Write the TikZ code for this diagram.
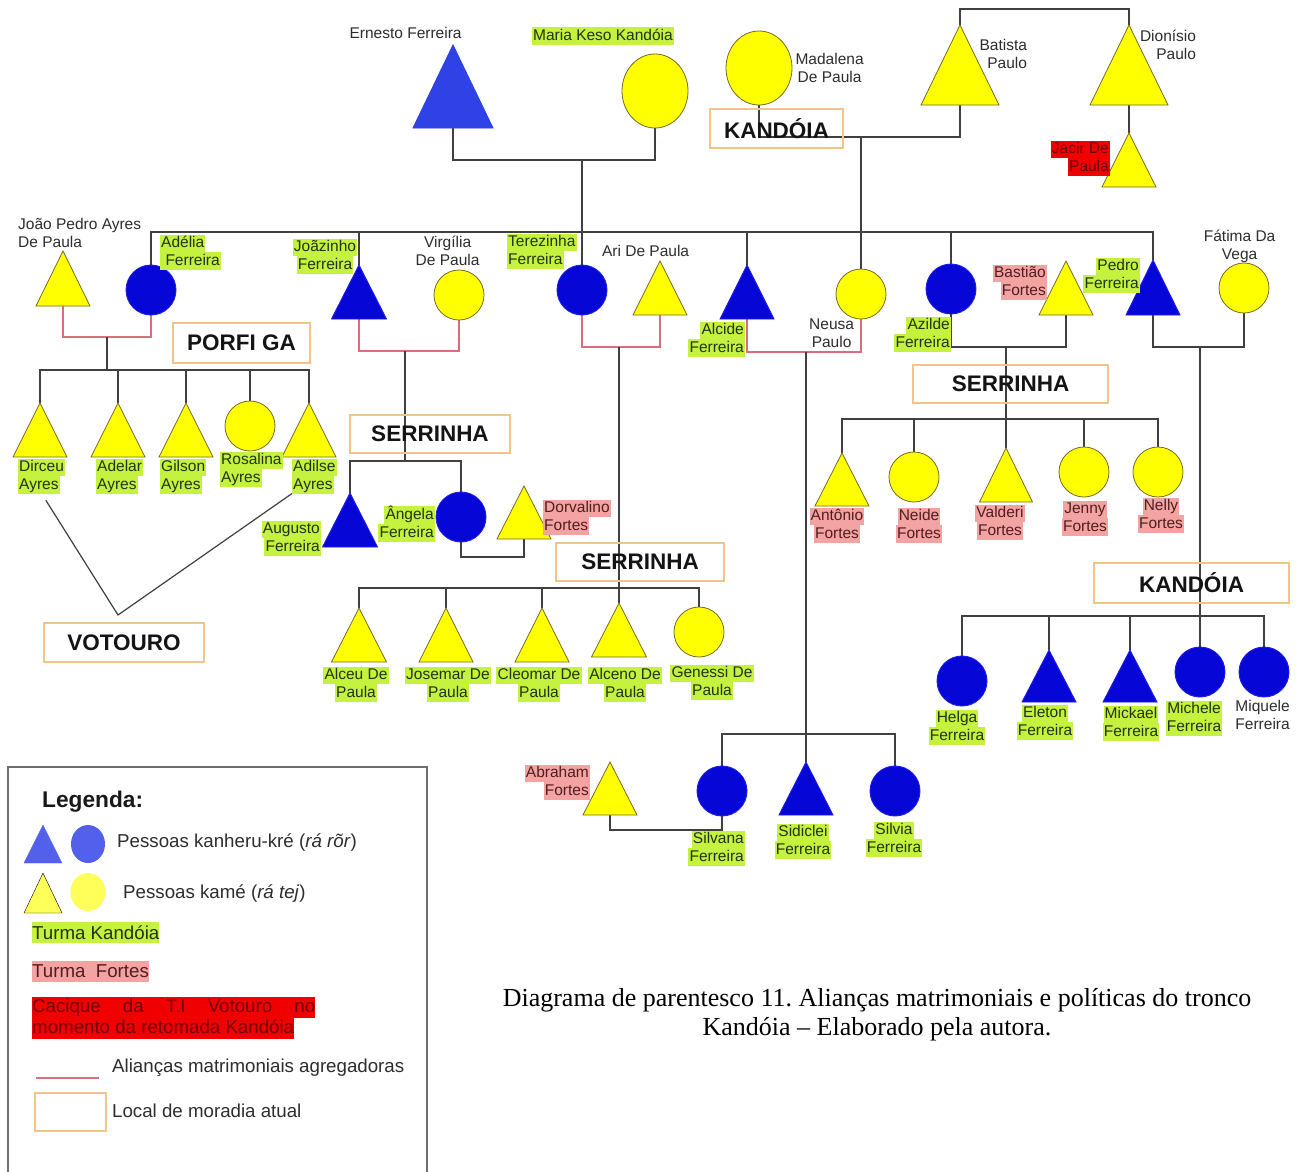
\documentclass[tikz,border=0pt]{standalone}
\usepackage{fontspec}
\setmainfont{Liberation Sans}
\newfontfamily\captionserif{Liberation Serif}
\usetikzlibrary{shapes.geometric,backgrounds}
\frenchspacing

% palette
\definecolor{kinBlue}{RGB}{6,6,214}
\definecolor{kinBlueEdge}{RGB}{30,30,232}
\definecolor{kinBlueLight}{RGB}{46,66,230}
\definecolor{kameYellow}{RGB}{255,255,0}
\definecolor{kameEdge}{RGB}{118,108,40}
\definecolor{lineGray}{RGB}{64,64,64}
\definecolor{allianceRed}{RGB}{214,112,124}
\definecolor{placeOrange}{RGB}{242,196,138}
\definecolor{hlGreen}{RGB}{196,242,62}
\definecolor{hlPink}{RGB}{244,163,163}
\definecolor{hlRed}{RGB}{240,0,0}
\definecolor{txtGray}{RGB}{45,45,45}
\definecolor{txtGreen}{RGB}{35,50,20}
\definecolor{txtPink}{RGB}{80,30,30}
\definecolor{txtRed}{RGB}{110,0,0}
\definecolor{legendBlue}{RGB}{82,96,236}
\definecolor{legendYellow}{RGB}{255,255,90}
\definecolor{frameGray}{RGB}{110,110,110}

% highlighted name lines
\newcommand\lblsize{\fontsize{15.5}{17.5}\selectfont}
\newcommand\hlstrut{\rule[-4.2pt]{0pt}{17.5pt}}
\newcommand\hlmark[3]{{\setlength{\fboxsep}{0pt}\colorbox{#1}{\hlstrut\hspace{1.2pt}\textcolor{#2}{#3}\hspace{1.2pt}}}}
\newcommand\hlG[1]{\hlmark{hlGreen}{txtGreen}{#1}}
\newcommand\hlP[1]{\hlmark{hlPink}{txtPink}{#1}}
\newcommand\hlR[1]{\hlmark{hlRed}{txtRed}{#1}}
\newcommand\hlN[1]{{\hlstrut\hspace{1.2pt}\textcolor{txtGray}{#1}\hspace{1.2pt}}}
\newcommand\cacline[1]{{\setlength{\fboxsep}{0pt}\colorbox{hlRed}{\rule[-5pt]{0pt}{20.7pt}\textcolor{txtRed}{#1}}}}

% a triangle person: name, centre, paint, size
\newcommand\persontri[4]{%
  \node[tribox,#4] (#1) at (#2) {};
  \filldraw[#3] (#1.north) -- (#1.south east) -- (#1.south west) -- cycle;}

\begin{document}
\begin{tikzpicture}[x=1pt,y=-1pt,
  tribox/.style={rectangle, draw=none, inner sep=0pt, outer sep=0pt, minimum width=54pt, minimum height=54pt},
  kb/.style={fill=kinBlue, draw=kinBlueEdge, line width=0.9pt},
  kbE/.style={fill=kinBlueLight, draw=kinBlueLight, line width=0.9pt},
  ky/.style={fill=kameYellow, draw=kameEdge, line width=0.8pt},
  circ/.style={circle, inner sep=0pt, outer sep=0pt, minimum size=50pt},
  oval/.style={ellipse, inner sep=0pt, outer sep=0pt, minimum width=66pt, minimum height=74pt},
  lbl/.style={inner sep=0pt, outer sep=0pt, font=\lblsize},
  kin/.style={draw=lineGray, line width=1.3pt},
  alliance/.style={draw=allianceRed, line width=1.3pt},
  placebox/.style={rectangle, draw=placeOrange, line width=1.5pt, inner sep=0pt,
    font=\bfseries\fontsize{22.5}{26}\selectfont, text=black!92},
  legtext/.style={inner sep=0pt, font=\fontsize{18.7}{20.7}\selectfont, text=txtGray}
]
\useasboundingbox (0,0) rectangle (1309,1171);

% ---------- places of residence ----------
\node[placebox, minimum width=133pt, minimum height=39pt] (kandoiaA) at (776.5,128.5) {KANDÓIA};
\node[placebox, minimum width=137pt, minimum height=40pt] (porfiga) at (241.5,343) {PORFI GA};
\node[placebox, minimum width=160pt, minimum height=38pt] (serrinhaA) at (430,434) {SERRINHA};
\node[placebox, minimum width=160pt, minimum height=39pt] (votouro) at (124,642.5) {VOTOURO};
\node[placebox, minimum width=168pt, minimum height=38pt] (serrinhaB) at (640,562) {SERRINHA};
\node[placebox, minimum width=195pt, minimum height=38pt] (serrinhaC) at (1010.5,384) {SERRINHA};
\node[placebox, minimum width=195pt, minimum height=40pt] (kandoiaB) at (1191.5,583) {KANDÓIA};

% ---------- first generation ----------
\persontri{ernesto}{453,86.5}{kbE}{minimum width=80pt, minimum height=83pt}
\node[oval, ky] (maria) at (655,91) {};
\node[oval, ky] (madalena) at (759,68) {};
\persontri{batista}{960,65}{ky}{minimum width=78pt, minimum height=80pt}
\persontri{dionisio}{1129,65}{ky}{minimum width=78pt, minimum height=80pt}
\persontri{jacir}{1129,160}{ky}{}

% ---------- second generation ----------
\persontri{jpedro}{63,278.5}{ky}{minimum height=55pt}
\node[circ, kb] (adelia) at (151,290) {};
\persontri{joazinho}{359,292}{kb}{minimum width=55pt}
\node[circ, ky] (virgilia) at (459,295) {};
\node[circ, kb] (terezinha) at (582,290) {};
\persontri{ari}{660,288}{ky}{}
\persontri{alcide}{747,292}{kb}{}
\node[circ, ky] (neusa) at (861,294) {};
\node[circ, kb] (azilde) at (951,289) {};
\persontri{bastiao}{1066,288}{ky}{}
\persontri{pedro}{1153,287.5}{kb}{minimum height=55pt}
\node[circ, ky] (fatima) at (1244,288) {};

% ---------- third generation ----------
\persontri{dirceu}{40,430}{ky}{}
\persontri{adelar}{118,430}{ky}{}
\persontri{gilson}{186,430}{ky}{}
\node[circ, ky] (rosalina) at (250,426) {};
\persontri{adilse}{309,430}{ky}{}

\persontri{augusto}{350,520}{kb}{minimum width=55pt}
\node[circ, kb] (angela) at (461,517) {};
\persontri{dorvalino}{524,512.5}{ky}{minimum height=53pt}

\persontri{alceu}{359,635}{ky}{minimum width=55pt}
\persontri{josemar}{446,635}{ky}{}
\persontri{cleomar}{542,635}{ky}{}
\persontri{alceno}{619,630}{ky}{minimum width=55pt}
\node[circ, ky] (genessi) at (699,632) {};

\persontri{antonio}{842,479.5}{ky}{minimum height=53pt}
\node[circ, ky] (neide) at (914,477) {};
\persontri{valderi}{1006,475}{ky}{minimum width=53pt}
\node[circ, ky] (jenny) at (1084,472) {};
\node[circ, ky] (nelly) at (1158,472) {};

\node[circ, kb] (helga) at (962,681) {};
\persontri{eleton}{1049,676}{kb}{minimum height=52pt}
\persontri{mickael}{1130,676}{kb}{minimum height=52pt}
\node[circ, kb] (michele) at (1200,672) {};
\node[circ, kb] (miquele) at (1264,672) {};

\persontri{abraham}{610,788.5}{ky}{minimum height=53pt}
\node[circ, kb] (silvana) at (722,791) {};
\persontri{sidiclei}{806,788.5}{kb}{minimum height=53pt}
\node[circ, kb] (silvia) at (895,791) {};

% ---------- names ----------
\node[lbl] (lErnesto) at (405,34) {\hlN{Ernesto Ferreira}};
\node[lbl] (lMaria) at (603,36) {\hlG{Maria Keso Kandóia}};
\node[lbl, align=center] (lMadalena) at (829,69) {\hlN{Madalena}\\\hlN{De Paula}};
\node[lbl, align=right, anchor=east] (lBatista) at (1027,55) {\hlN{Batista}\\\hlN{Paulo}};
\node[lbl, align=right, anchor=east] (lDionisio) at (1196,46) {\hlN{Dionísio}\\\hlN{Paulo}};
\node[lbl, align=right, anchor=east] (lJacir) at (1110,158) {\hlR{Jacir De}\\\hlR{Paula}};

\node[lbl, align=left, anchor=west] (lJoao) at (17,234) {\hlN{João Pedro Ayres}\\\hlN{De Paula}};
\node[lbl, align=left, anchor=west] (lAdelia) at (160,252) {\hlG{Adélia}\\\hlG{\ Ferreira}};
\node[lbl, align=center] (lJoazinho) at (325,256) {\hlG{Joãzinho}\\\hlG{Ferreira}};
\node[lbl, align=center] (lVirgilia) at (447,252) {\hlN{Virgília}\\\hlN{De Paula}};
\node[lbl, align=left, anchor=west] (lTerezinha) at (507,251) {\hlG{Terezinha}\\\hlG{Ferreira}};
\node[lbl] (lAri) at (645,252) {\hlN{Ari De Paula}};
\node[lbl, align=right, anchor=east] (lAlcide) at (745,339) {\hlG{Alcide}\\\hlG{Ferreira}};
\node[lbl, align=center] (lNeusa) at (831,334) {\hlN{Neusa}\\\hlN{Paulo}};
\node[lbl, align=right, anchor=east] (lAzilde) at (951,334) {\hlG{Azilde}\\\hlG{Ferreira}};
\node[lbl, align=right, anchor=east] (lBastiao) at (1047,282) {\hlP{Bastião}\\\hlP{Fortes}};
\node[lbl, align=right, anchor=east] (lPedro) at (1140,275) {\hlG{Pedro}\\\hlG{Ferreira}};
\node[lbl, align=center] (lFatima) at (1239,246) {\hlN{Fátima Da}\\\hlN{Vega}};

\node[lbl, align=left, anchor=west] (lDirceu) at (18,476) {\hlG{Dirceu}\\\hlG{Ayres}};
\node[lbl, align=left, anchor=west] (lAdelar) at (96,476) {\hlG{Adelar}\\\hlG{Ayres}};
\node[lbl, align=left, anchor=west] (lGilson) at (160,476) {\hlG{Gilson}\\\hlG{Ayres}};
\node[lbl, align=left, anchor=west] (lRosalina) at (220,469) {\hlG{Rosalina}\\\hlG{Ayres}};
\node[lbl, align=left, anchor=west] (lAdilse) at (292,476) {\hlG{Adilse}\\\hlG{Ayres}};

\node[lbl, align=right, anchor=east] (lAugusto) at (321,538) {\hlG{Augusto}\\\hlG{Ferreira}};
\node[lbl, align=right, anchor=east] (lAngela) at (435,524) {\hlG{Ângela}\\\hlG{Ferreira}};
\node[lbl, align=left, anchor=west] (lDorvalino) at (543,517) {\hlP{Dorvalino}\\\hlP{Fortes}};

\node[lbl, align=center] (lAlceu) at (356,684) {\hlG{Alceu De}\\\hlG{Paula}};
\node[lbl, align=center] (lJosemar) at (448,684) {\hlG{Josemar De}\\\hlG{Paula}};
\node[lbl, align=center] (lCleomar) at (539,684) {\hlG{Cleomar De}\\\hlG{Paula}};
\node[lbl, align=center] (lAlceno) at (625,684) {\hlG{Alceno De}\\\hlG{Paula}};
\node[lbl, align=center] (lGenessi) at (712,682) {\hlG{Genessi De}\\\hlG{Paula}};

\node[lbl, align=center] (lAntonio) at (837,525) {\hlP{Antônio}\\\hlP{Fortes}};
\node[lbl, align=center] (lNeide) at (919,525) {\hlP{Neide}\\\hlP{Fortes}};
\node[lbl, align=center] (lValderi) at (1000,522) {\hlP{Valderi}\\\hlP{Fortes}};
\node[lbl, align=center] (lJenny) at (1085,518) {\hlP{Jenny}\\\hlP{Fortes}};
\node[lbl, align=center] (lNelly) at (1161,515) {\hlP{Nelly}\\\hlP{Fortes}};

\node[lbl, align=center] (lHelga) at (957,727) {\hlG{Helga}\\\hlG{Ferreira}};
\node[lbl, align=center] (lEleton) at (1045,722) {\hlG{Eleton}\\\hlG{Ferreira}};
\node[lbl, align=center] (lMickael) at (1131,723) {\hlG{Mickael}\\\hlG{Ferreira}};
\node[lbl, align=center] (lMichele) at (1194,718) {\hlG{Michele}\\\hlG{Ferreira}};
\node[lbl, align=center] (lMiquele) at (1262,716) {\hlN{Miquele}\\\hlN{Ferreira}};

\node[lbl, align=right, anchor=east] (lAbraham) at (590,782) {\hlP{Abraham}\\\hlP{Fortes}};
\node[lbl, align=right, anchor=east] (lSilvana) at (745,848) {\hlG{Silvana}\\\hlG{Ferreira}};
\node[lbl, align=center] (lSidiclei) at (803,841) {\hlG{Sidiclei}\\\hlG{Ferreira}};
\node[lbl, align=center] (lSilvia) at (894,839) {\hlG{Silvia}\\\hlG{Ferreira}};

% ---------- union points and sibling bars ----------
\coordinate (uEM) at (582,160);
\coordinate (uMB) at (861,137);
\coordinate (uJA) at (107,337);
\coordinate (uJV) at (405,351);
\coordinate (uTA) at (619,347);
\coordinate (uAN) at (806,352);
\coordinate (uAB) at (1006,347);
\coordinate (uPF) at (1200,347);
\coordinate (uAD) at (493,557);
\coordinate (uAS) at (666,830);
\coordinate (sibBD) at (0,9);
\coordinate (sib2) at (0,232);
\coordinate (sibAy) at (0,370);
\coordinate (sibS1) at (0,461);
\coordinate (sibS2) at (0,588);
\coordinate (sibF) at (0,419);
\coordinate (sibK) at (0,616);
\coordinate (sibA) at (0,734);
\coordinate (vMeet) at (118,615);

\begin{pgfonlayer}{background}
\fill[white] (0,0) rectangle (1309,1171);
% couples
\draw[kin] (ernesto.south) -- (ernesto.south |- uEM) -- (maria.south |- uEM) -- (maria.south);
\draw[kin] (madalena.south) -- (madalena.south |- uMB) -- (batista.south |- uMB) -- (batista.south);
\draw[alliance] (jpedro.south) -- (jpedro.south |- uJA) -- (adelia.south |- uJA) -- (adelia.south);
\draw[alliance] (joazinho.south) -- (joazinho.south |- uJV) -- (virgilia.south |- uJV) -- (virgilia.south);
\draw[alliance] (terezinha.south) -- (terezinha.south |- uTA) -- (ari.south |- uTA) -- (ari.south);
\draw[alliance] (alcide.south) -- (alcide.south |- uAN) -- (neusa.south |- uAN) -- (neusa.south);
\draw[kin] (azilde.south) -- (azilde.south |- uAB) -- (bastiao.south |- uAB) -- (bastiao.south);
\draw[kin] (pedro.south) -- (pedro.south |- uPF) -- (fatima.south |- uPF) -- (fatima.south);
\draw[kin] (angela.south) -- (angela.south |- uAD) -- (dorvalino.south |- uAD) -- (dorvalino.south);
\draw[kin] (abraham.south) -- (abraham.south |- uAS) -- (silvana.south |- uAS) -- (silvana.south);

% siblings of the first generation
\draw[kin] (batista.north) -- (batista.north |- sibBD) -- (dionisio.north |- sibBD) -- (dionisio.north);
\draw[kin] (dionisio.south) -- (jacir.north);

% children of Ernesto and Maria, of Madalena and Batista
\draw[kin] (uEM) -- (terezinha.north);
\draw[kin] (uMB) -- (neusa.north);
\draw[kin] (adelia.north) -- (adelia.north |- sib2) -- (pedro.north |- sib2) -- (pedro.north);
\foreach \p in {joazinho,alcide,azilde}
  \draw[kin] (\p.north) -- (\p.north |- sib2);

% Ayres children
\draw[kin] (uJA) -- (uJA |- sibAy);
\draw[kin] (dirceu.north) -- (dirceu.north |- sibAy) -- (adilse.north |- sibAy) -- (adilse.north);
\foreach \p in {adelar,gilson,rosalina}
  \draw[kin] (\p.north) -- (\p.north |- sibAy);

% Joazinho and Virgilia's children
\draw[kin] (uJV) -- (uJV |- sibS1);
\draw[kin] (augusto.north) -- (augusto.north |- sibS1) -- (angela.north |- sibS1) -- (angela.north);

% Terezinha and Ari's children
\draw[kin] (uTA) -- (alceno.north);
\draw[kin] (alceu.north) -- (alceu.north |- sibS2) -- (genessi.north |- sibS2) -- (genessi.north);
\foreach \p in {josemar,cleomar}
  \draw[kin] (\p.north) -- (\p.north |- sibS2);

% Azilde and Bastiao's children
\draw[kin] (uAB) -- (valderi.north);
\draw[kin] (antonio.north) -- (antonio.north |- sibF) -- (nelly.north |- sibF) -- (nelly.north);
\foreach \p in {neide,jenny}
  \draw[kin] (\p.north) -- (\p.north |- sibF);

% Pedro and Fatima's children
\draw[kin] (uPF) -- (michele.north);
\draw[kin] (helga.north) -- (helga.north |- sibK) -- (miquele.north |- sibK) -- (miquele.north);
\foreach \p in {eleton,mickael}
  \draw[kin] (\p.north) -- (\p.north |- sibK);

% Alcide and Neusa's children
\draw[kin] (uAN) -- (sidiclei.north);
\draw[kin] (silvana.north) -- (silvana.north |- sibA) -- (silvia.north |- sibA) -- (silvia.north);

% moved to Votouro
\draw[draw=lineGray, line width=1.2pt, shorten <=8pt] (lDirceu.south) -- (vMeet) -- (lAdilse.south west);
\end{pgfonlayer}

% ---------- legend ----------
\draw[draw=frameGray, line width=1.5pt] (8,1172) -- (8,767) -- (427,767) -- (427,1172);
\node[font=\bfseries\fontsize{22.7}{26}\selectfont, anchor=west, inner sep=0pt, text=black!90] (legTitle) at (42,802) {Legenda:};
\persontri{legTriBlue}{43,844}{fill=legendBlue, draw=legendBlue}{minimum width=38pt, minimum height=38pt}
\node[ellipse, minimum width=34pt, minimum height=38pt, inner sep=0pt, fill=legendBlue] (legCircBlue) at (88,844) {};
\node[legtext, anchor=west] (legKanheru) at (117,843) {Pessoas kanheru-kré (\textit{rá rõr})};
\persontri{legTriYellow}{43,893}{fill=legendYellow}{minimum width=38pt, minimum height=40pt}
\node[ellipse, minimum width=35pt, minimum height=38pt, inner sep=0pt, fill=legendYellow] (legCircYellow) at (88,892) {};
\node[legtext, anchor=west] (legKame) at (123,894) {Pessoas kamé (\textit{rá tej})};
\node[legtext, anchor=west, fill=hlGreen, inner xsep=0pt, minimum height=21pt, text=txtGreen] (legKandoia) at (32,932.5) {Turma Kandóia\hspace{5pt}};
\node[legtext, anchor=west, fill=hlPink, inner xsep=0pt, minimum height=21pt, text=txtPink] (legFortes) at (32,971.5) {Turma\ \ Fortes\hspace{1pt}};
\node[legtext, anchor=north west, align=left] (legCacique) at (32,997) {\cacline{\makebox[283pt][s]{Cacique da T.I Votouro no}}\\\cacline{momento da retomada Kandóia}};
\coordinate (legLineA) at (36,1078);
\coordinate (legLineB) at (99,1078);
\draw[alliance] (legLineA) -- (legLineB);
\node[legtext, anchor=west] (legAlliance) at (112,1068) {Alianças matrimoniais agregadoras};
\node[placebox, minimum width=71pt, minimum height=38pt] (legPlace) at (70.5,1112) {};
\node[legtext, anchor=west] (legMoradia) at (112,1111) {Local de moradia atual};

% ---------- caption ----------
\node[font=\captionserif\fontsize{26}{29}\selectfont, align=center, text=black, inner sep=0pt] (caption) at (877,1015)
  {Diagrama de parentesco 11. Alianças matrimoniais e políticas do tronco\\Kandóia – Elaborado pela autora.};
\end{tikzpicture}
\end{document}
